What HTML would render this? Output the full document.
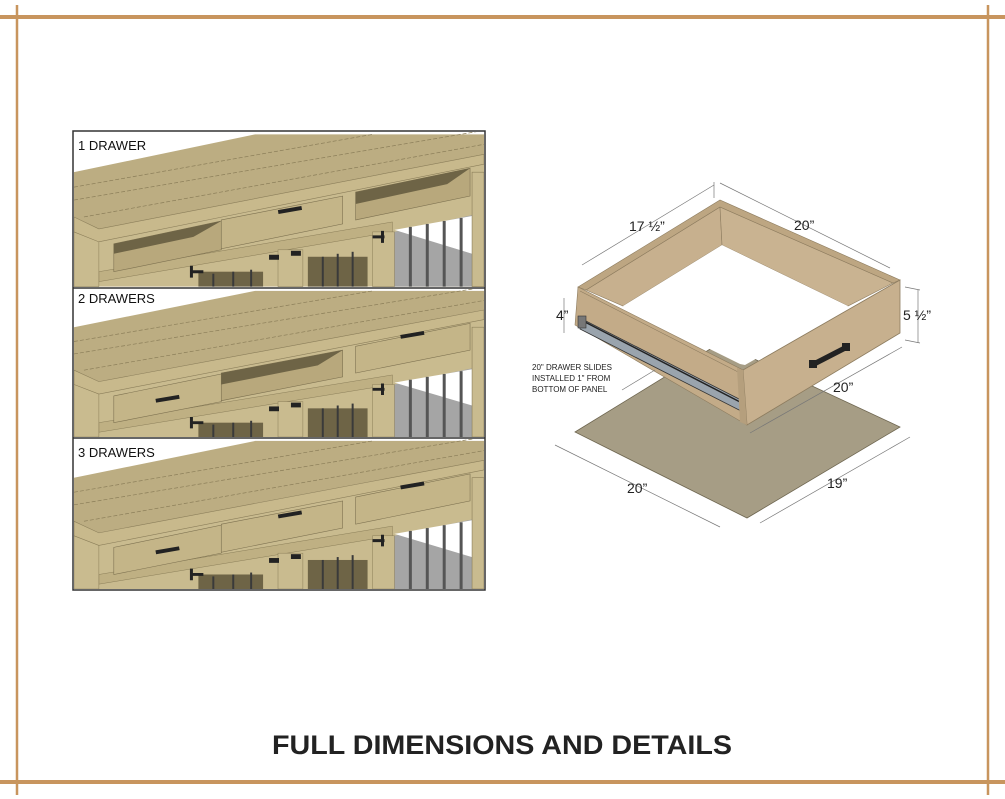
<!DOCTYPE html>
<html><head><meta charset="utf-8"><style>
html,body{margin:0;padding:0;background:#fff}
svg{display:block}
text{font-family:"Liberation Sans",sans-serif}
</style></head><body>
<svg width="1005" height="799" viewBox="0 0 1005 799" xmlns="http://www.w3.org/2000/svg">
<defs>
<g id="base">
  <rect x="0" y="0" width="412" height="155" fill="#fff"/>
  <polygon points="0,100 25,110 412,32 412,155 0,155" fill="#c9bb8f"/>
  <polygon points="322,100 405,82 405,155 322,155" fill="#a5a5a5"/>
  <polygon points="322,98 400,84 400,122" fill="#fff"/>
  <g stroke="#555" stroke-width="3">
    <line x1="338" y1="95" x2="338" y2="155"/><line x1="355" y1="92" x2="355" y2="155"/>
    <line x1="372" y1="89" x2="372" y2="155"/><line x1="389" y1="86" x2="389" y2="155"/>
  </g>
  <rect x="400" y="40" width="12" height="115" fill="#c9bb8f" stroke="#8a7d58" stroke-width="0.6"/>
  <polygon points="25,140 320,90 320,100 25,150" fill="#bfb083" stroke="#8a7d58" stroke-width="0.5"/>
  <rect x="125" y="140" width="65" height="15" fill="#6e6446"/>
  <rect x="235" y="125" width="60" height="30" fill="#6e6446"/>
  <g stroke="#3a3a3a" stroke-width="2">
    <line x1="140" y1="142" x2="140" y2="155"/><line x1="160" y1="140" x2="160" y2="155"/><line x1="178" y1="138" x2="178" y2="155"/>
    <line x1="250" y1="125" x2="250" y2="155"/><line x1="265" y1="122" x2="265" y2="155"/><line x1="280" y1="120" x2="280" y2="155"/>
  </g>
  <rect x="205" y="118" width="25" height="37" fill="#c9bb8f" stroke="#8a7d58" stroke-width="0.5"/>
  <rect x="300" y="100" width="22" height="55" fill="#c9bb8f" stroke="#8a7d58" stroke-width="0.5"/>
  <path d="M118 140h12M118 134v12" stroke="#222" stroke-width="3"/>
  <path d="M300 105h12M310 99v12" stroke="#222" stroke-width="3"/>
  <rect x="196" y="123" width="10" height="5" fill="#222"/><rect x="218" y="119" width="10" height="5" fill="#222"/>
  <rect x="0" y="100" width="25" height="55" fill="#c9bb8f" stroke="#8a7d58" stroke-width="0.5"/>
  <polygon points="0,40 182,2 412,2 412,22 25,97 0,85" fill="#bcad82"/>
  <g stroke="#8a7d58" stroke-width="0.7" stroke-dasharray="4 2">
    <line x1="0" y1="55" x2="300" y2="2"/><line x1="0" y1="68" x2="412" y2="-2"/><line x1="10" y1="85" x2="412" y2="12"/>
  </g>
  <polygon points="0,85 25,97 412,22 412,32 25,110 0,100" fill="#c8b98c" stroke="#8a7d58" stroke-width="0.6"/>
</g>
<g id="drwL"><polygon points="40,112 148,89 148,118 40,140" fill="#c4b588" stroke="#7d7150" stroke-width="0.6"/></g>
<g id="drwM"><polygon points="148,88 270,64 270,92 148,117" fill="#c4b588" stroke="#7d7150" stroke-width="0.6"/></g>
<g id="drwR"><polygon points="283,60 398,36 398,64 283,88" fill="#c4b588" stroke="#7d7150" stroke-width="0.6"/></g>
<g id="cubL"><polygon points="40,112 148,89 148,118 40,140" fill="#b8a87c" stroke="#7d7150" stroke-width="0.6"/><polygon points="40,112 148,89 120,105 40,122" fill="#6e6446"/></g>
<g id="cubM"><polygon points="148,88 270,64 270,92 148,117" fill="#b8a87c" stroke="#7d7150" stroke-width="0.6"/><polygon points="148,88 270,64 245,80 148,100" fill="#6e6446"/></g>
<g id="cubR"><polygon points="283,60 398,36 398,64 283,88" fill="#b8a87c" stroke="#7d7150" stroke-width="0.6"/><polygon points="283,60 398,36 375,52 283,72" fill="#6e6446"/></g>
<g id="hL"><rect x="82" y="113" width="24" height="4" fill="#222" transform="rotate(-10 94 115)"/></g>
<g id="hM"><rect x="205" y="76" width="24" height="4" fill="#222" transform="rotate(-10 217 78)"/></g>
<g id="hR"><rect x="328" y="46" width="24" height="4" fill="#222" transform="rotate(-10 340 48)"/></g>
</defs>

<g stroke="#c8955e">
  <line x1="0" y1="17" x2="1005" y2="17" stroke-width="4"/>
  <line x1="0" y1="782" x2="1005" y2="782" stroke-width="4"/>
  <line x1="17" y1="5" x2="17" y2="795" stroke-width="2.5"/>
  <line x1="988" y1="5" x2="988" y2="795" stroke-width="2.5"/>
</g>

<svg x="74" y="132" width="410" height="155" viewBox="0 0 412 155"><use href="#base"/><use href="#cubL"/><use href="#drwM"/><use href="#cubR"/><use href="#hM"/></svg>
<svg x="74" y="289" width="410" height="148" viewBox="0 0 412 155" preserveAspectRatio="none"><use href="#base"/><use href="#drwL"/><use href="#cubM"/><use href="#drwR"/><use href="#hL"/><use href="#hR"/></svg>
<svg x="74" y="439" width="410" height="150" viewBox="0 0 412 155" preserveAspectRatio="none"><use href="#base"/><use href="#drwL"/><use href="#drwM"/><use href="#drwR"/><use href="#hL"/><use href="#hM"/><use href="#hR"/></svg>
<rect x="73" y="131" width="412" height="459" fill="none" stroke="#333" stroke-width="1.5"/>
<line x1="73" y1="288" x2="485" y2="288" stroke="#333" stroke-width="1.5"/>
<line x1="73" y1="438" x2="485" y2="438" stroke="#333" stroke-width="1.5"/>
<text x="78" y="150" font-size="13" fill="#111">1 DRAWER</text>
<text x="78" y="303" font-size="13" fill="#111">2 DRAWERS</text>
<text x="78" y="457" font-size="13" fill="#111">3 DRAWERS</text>

<!-- drawer illustration -->
<polygon points="720,343 900,427 747,518 575,432" fill="#a69d85" stroke="#6e6650" stroke-width="0.8"/>
<!-- inner faces of back walls -->
<polygon points="586,290 720,207 722,245 623,306" fill="#c7b08e" stroke="#8d7c5f" stroke-width="0.6"/>
<polygon points="720,207 893,283 848,306 722,245" fill="#c9b391" stroke="#8d7c5f" stroke-width="0.6"/>
<!-- top rim of back walls -->
<polygon points="578,287 720,200 900,280 893,283 720,207 586,290" fill="#bda682" stroke="#8d7c5f" stroke-width="0.6"/>
<!-- white opening -->
<polygon points="623,306 722,245 848,306 745,365 740,364" fill="#fff"/>
<!-- left side outer -->
<polygon points="578,287 743,370 747,425 575,325" fill="#c3ab88" stroke="#8d7c5f" stroke-width="0.6"/>
<line x1="580" y1="291" x2="742" y2="374" stroke="#8d7c5f" stroke-width="0.6"/>
<polygon points="580,318 743,401 743,412 580,329" fill="#9aa4ad" stroke="#333" stroke-width="0.8"/>
<line x1="583" y1="321" x2="742" y2="403" stroke="#222" stroke-width="1.5"/>
<rect x="578" y="316" width="8" height="12" fill="#777" stroke="#333" stroke-width="0.6"/>
<!-- front -->
<polygon points="743,370 900,280 900,333 747,425" fill="#c7b08e" stroke="#8d7c5f" stroke-width="0.8"/>
<polygon points="737,368 743,370 747,425 740,422" fill="#b59f7d"/>
<polygon points="812,362 845,345 847,350 814,367" fill="#222"/>
<rect x="809" y="360" width="8" height="8" fill="#222"/><rect x="842" y="343" width="8" height="8" fill="#222"/>
<g stroke="#777" stroke-width="0.7" fill="none">
  <line x1="582" y1="265" x2="714" y2="185"/><line x1="714" y1="182" x2="714" y2="198"/>
  <line x1="720" y1="183" x2="890" y2="268"/>
  <line x1="564" y1="298" x2="564" y2="333"/>
  <line x1="918" y1="290" x2="918" y2="343"/><line x1="905" y1="287" x2="920" y2="290"/><line x1="905" y1="340" x2="920" y2="343"/>
  <line x1="750" y1="433" x2="902" y2="347"/>
  <line x1="555" y1="445" x2="720" y2="527"/>
  <line x1="760" y1="523" x2="910" y2="437"/>
  <line x1="622" y1="390" x2="655" y2="370"/>
</g>
<g font-size="14" fill="#222">
<text x="629" y="231">17 ½”</text>
<text x="794" y="230">20”</text>
<text x="556" y="320">4”</text>
<text x="903" y="320">5 ½”</text>
<text x="833" y="392">20”</text>
<text x="627" y="493">20”</text>
<text x="827" y="488">19”</text>
</g>
<g font-size="8" fill="#222">
<text x="532" y="370">20" DRAWER SLIDES</text>
<text x="532" y="381">INSTALLED 1" FROM</text>
<text x="532" y="392">BOTTOM OF PANEL</text>
</g>

<text x="502" y="754" font-size="27" font-weight="bold" fill="#222" text-anchor="middle" textLength="460" lengthAdjust="spacingAndGlyphs">FULL DIMENSIONS AND DETAILS</text>
</svg>
</body></html>
